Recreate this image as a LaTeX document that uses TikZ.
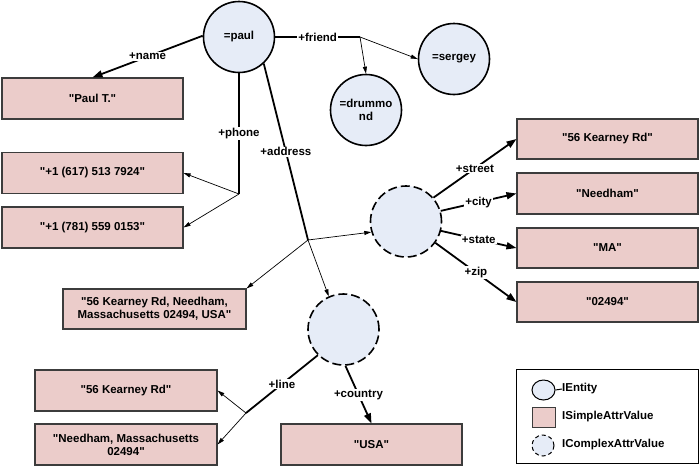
\documentclass[tikz,border=0pt]{standalone}
\usepackage{fontspec}
\setmainfont{Liberation Sans}[Ligatures=TeXOff]
\usetikzlibrary{arrows.meta,shapes.geometric}
\definecolor{entfill}{RGB}{230,236,247}
\definecolor{boxfill}{RGB}{235,204,202}
\definecolor{boxline}{RGB}{60,60,60}
\begin{document}
\begin{tikzpicture}[x=1pt,y=-1pt,
  font=\bfseries\fontsize{11.5}{13}\selectfont,
  entity/.style={circle,draw=black,line width=1.6pt,fill=entfill,minimum size=71pt,inner sep=0pt,align=center},
  complexval/.style={entity,dash pattern=on 9pt off 4pt},
  simple/.style={rectangle,draw=boxline,line width=1.1pt,fill=boxfill,minimum width=181pt,minimum height=41pt,inner sep=0pt,align=center},
  rel/.style={line width=1.8pt},
  relarrow/.style={rel,-{Triangle[length=10pt,width=7pt]}},
  thinarrow/.style={line width=0.7pt,-{Triangle[length=7pt,width=4pt]}},
  lbl/.style={fill=white,inner sep=1pt},
  lgtext/.style={anchor=west,inner sep=0pt}
]
\useasboundingbox (0,0) rectangle (700,466);

% entities
\node[entity] (paul) at (239,37) {=paul};
\node[entity] (sergey) at (454,59) {=sergey};
\node[entity] (drum) at (366,110) {=drummo\\nd};
\node[complexval] (addr) at (406,221.5) {};
\node[complexval] (cplx) at (343.5,329.5) {};

% simple values
\node[simple] (paulT) at (92.5,98.5) {"Paul T."};
\node[simple] (ph1) at (92.5,173) {"+1 (617) 513 7924"};
\node[simple] (ph2) at (92.5,227.5) {"+1 (781) 559 0153"};
\node[simple,minimum width=183pt,minimum height=40pt] (full) at (154.5,309) {"56 Kearney Rd, Needham,\\Massachusetts 02494, USA"};
\node[simple,minimum height=40pt] (street) at (607.5,139) {"56 Kearney Rd"};
\node[simple] (city) at (607.5,193.5) {"Needham"};
\node[simple,minimum height=40pt] (state) at (607.5,248) {"MA"};
\node[simple,minimum height=40pt] (zip) at (607.5,302) {"02494"};
\node[simple,minimum width=182pt] (kr) at (126,390.5) {"56 Kearney Rd"};
\node[simple,minimum width=182pt] (nm) at (126,444.5) {"Needham, Massachusetts\\02494"};
\node[simple] (usa) at (371.5,444.5) {"USA"};

% branch points
\coordinate (fb) at (360,37);
\coordinate (pb) at (239,194);
\coordinate (ab) at (308,240);
\coordinate (lb) at (246,413);

% connectors
\draw[relarrow] (paul.178) -- node[lbl]{+name} (paulT.north);
\draw[rel] (paul.east) -- node[lbl]{+friend} (fb);
\draw[thinarrow] (fb) -- (sergey.west);
\draw[thinarrow] (fb) -- (drum.north);
\draw[rel] (paul.south) -- node[lbl]{+phone} (pb);
\draw[thinarrow] (pb) -- (ph1.east);
\draw[thinarrow] (pb) -- (ph2.east);
\draw[rel] (paul.-47) -- node[lbl]{+address} (ab);
\draw[thinarrow] (ab) -- (addr.197);
\draw[thinarrow] (ab) -- (full.north east);
\draw[thinarrow] (ab) -- (cplx.114);
\draw[relarrow] (addr.41) -- node[lbl]{+street} (street.west);
\draw[relarrow] (addr.17) -- node[lbl]{+city} (city.west);
\draw[relarrow] (addr.-15) -- node[lbl]{+state} (state.west);
\draw[relarrow] (addr.-36) -- node[lbl]{+zip} (zip.west);
\draw[rel] (cplx.225) -- node[lbl]{+line} (lb);
\draw[thinarrow] (lb) -- (kr.east);
\draw[thinarrow] (lb) -- (nm.east);
\draw[relarrow] (cplx.273) -- node[lbl]{+country} (usa.north);

% legend
\node[draw=black,line width=1.8pt,minimum width=182pt,minimum height=94pt,inner sep=0pt] (legend) at (607.5,416.5) {};
\node[ellipse,draw=black,line width=1pt,fill=entfill,minimum width=23pt,minimum height=20pt,inner sep=0pt] (lgE) at (543.5,390) {};
\node[lgtext] (lgEt) at (562,389) {IEntity};
\draw[line width=1pt] (lgE.east) -- (lgEt.west);
\node[rectangle,draw=boxline,line width=1pt,fill=boxfill,minimum width=23pt,minimum height=20pt,inner sep=0pt] (lgS) at (543.5,417) {};
\node[lgtext] (lgSt) at (562,417) {ISimpleAttrValue};
\node[ellipse,draw=black,line width=1pt,fill=entfill,dash pattern=on 4pt off 3pt,minimum width=22pt,minimum height=21pt,inner sep=0pt] (lgC) at (543,445.5) {};
\node[lgtext] (lgCt) at (562,445) {IComplexAttrValue};
\end{tikzpicture}
\end{document}
